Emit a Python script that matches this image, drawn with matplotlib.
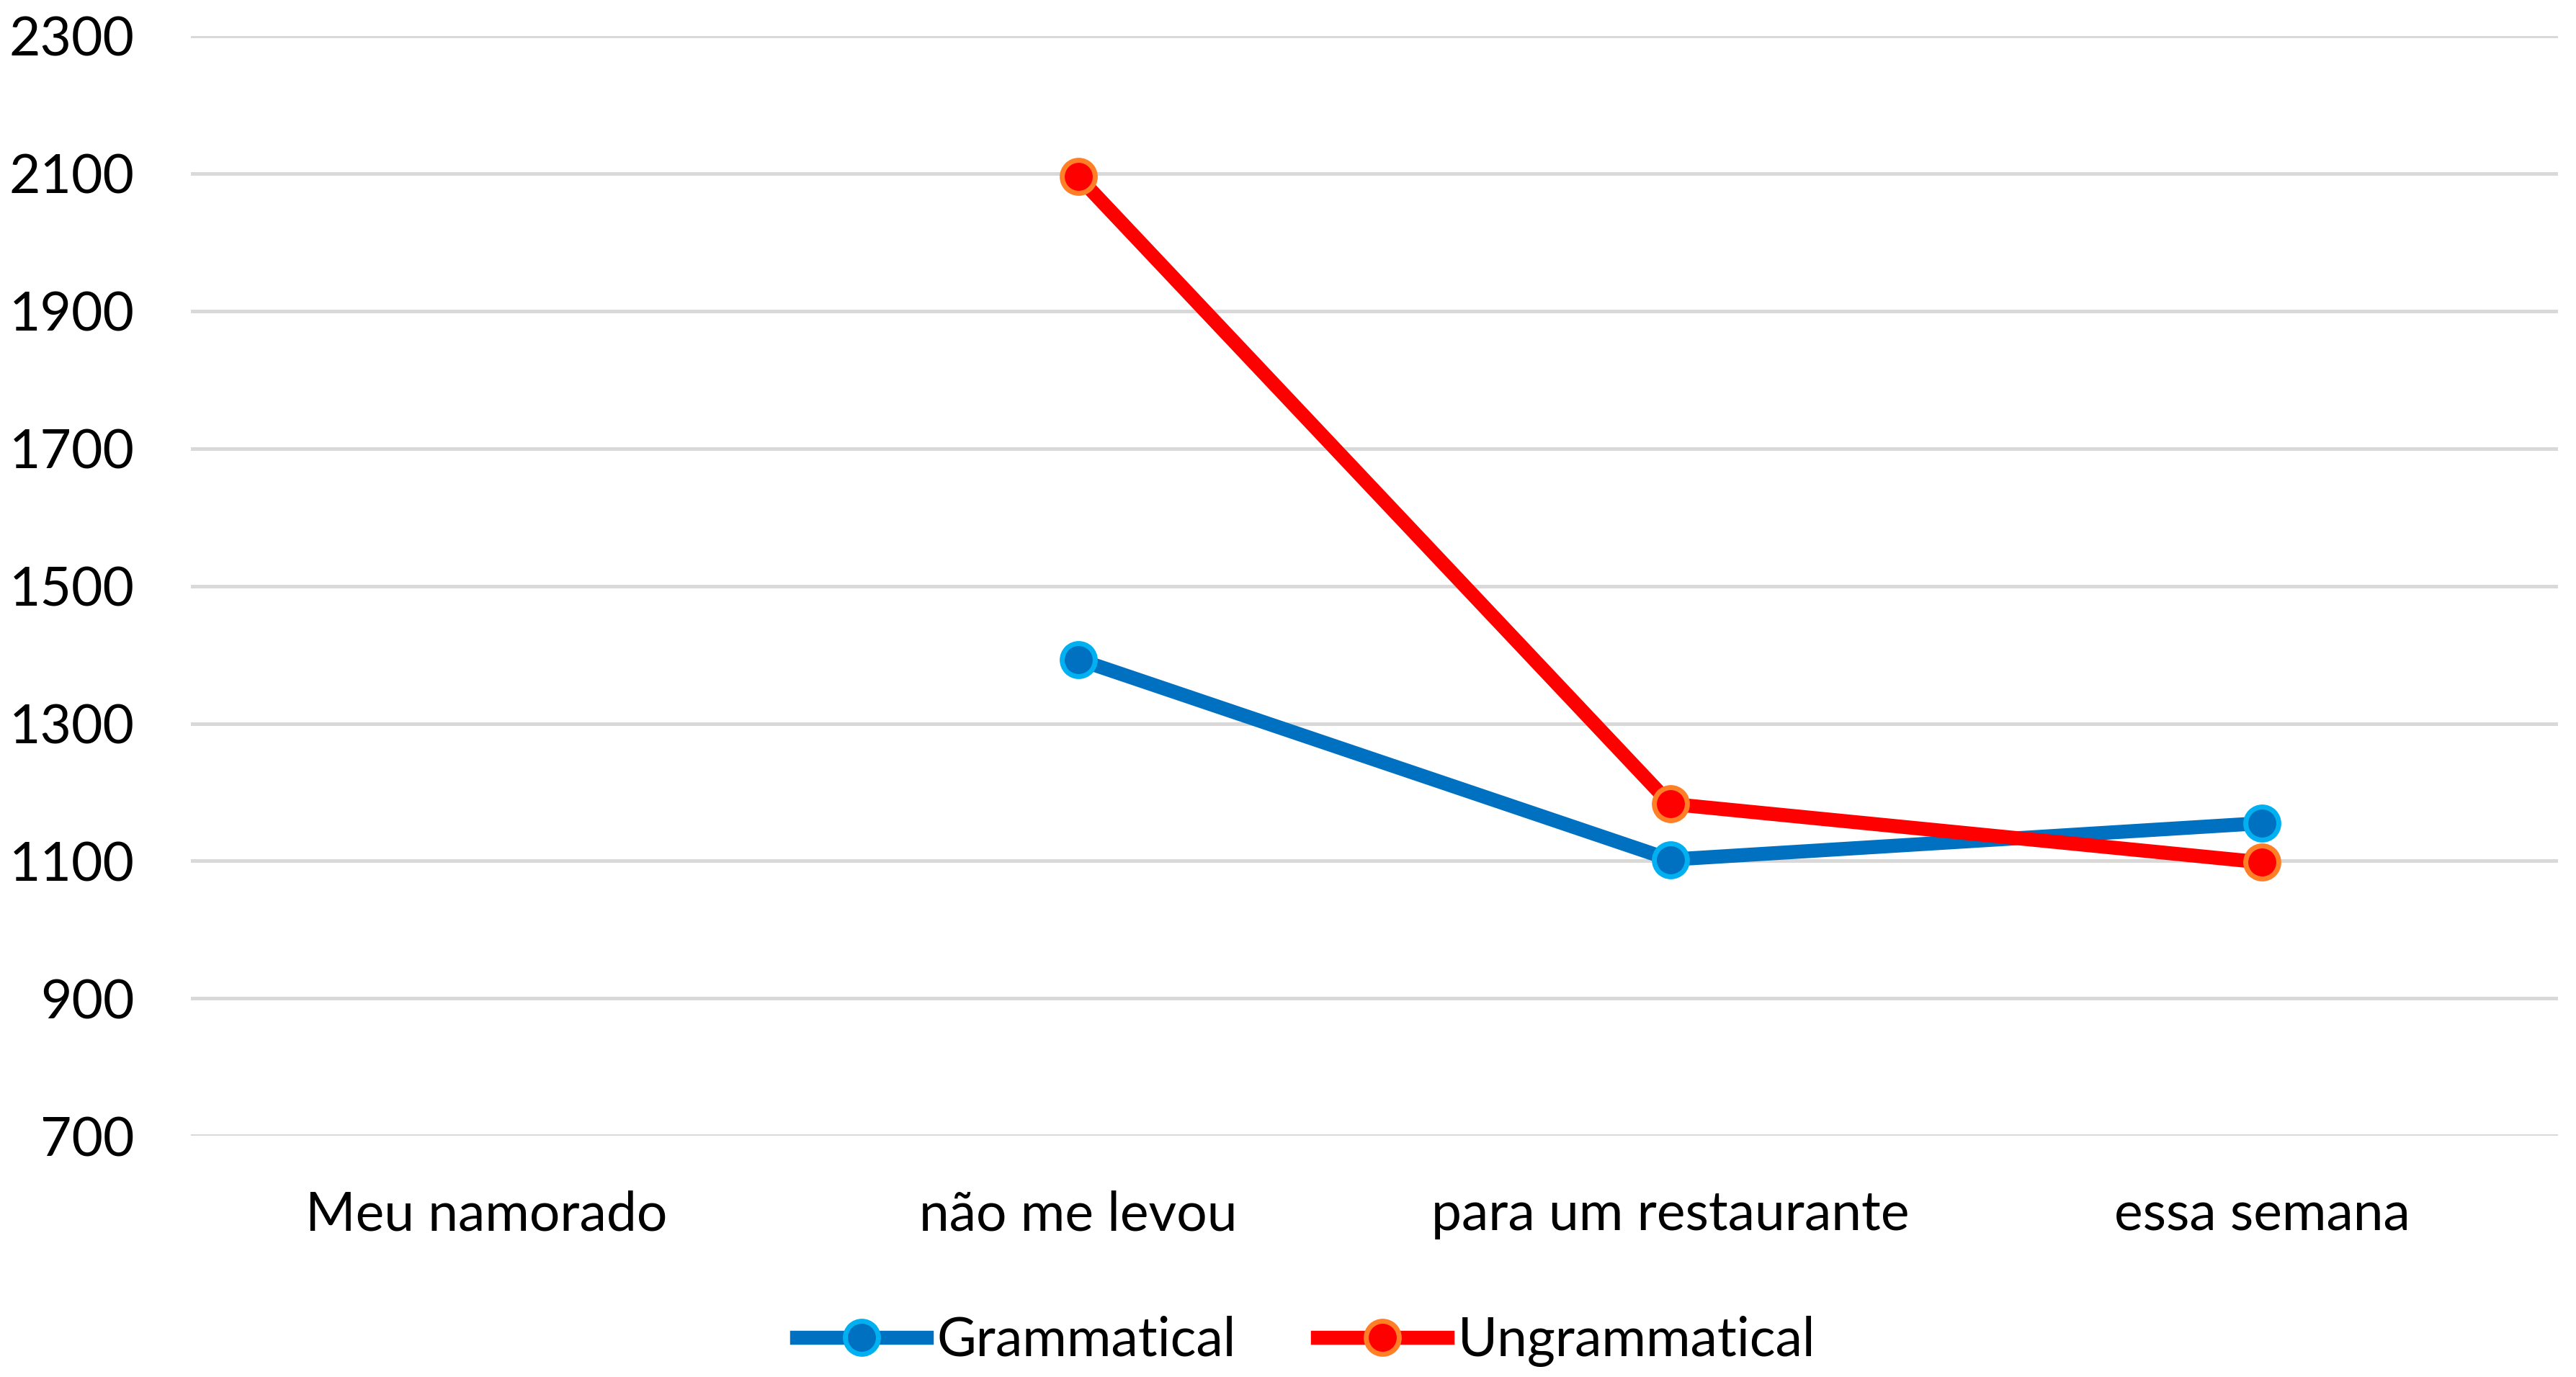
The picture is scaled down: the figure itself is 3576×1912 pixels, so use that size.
import numpy as np
import matplotlib.pyplot as plt

# chart data
categories = ["Meu namorado", "não me levou", "para um restaurante", "essa semana"]
grammatical = [np.nan, 1393, 1102, 1155]
ungrammatical = [np.nan, 2095, 1183, 1098]
y_ticks = [700, 900, 1100, 1300, 1500, 1700, 1900, 2100, 2300]

plt.rcParams['font.family'] = ['Lato', 'DejaVu Sans']

fig = plt.figure(figsize=(17.88, 9.56), dpi=200)
ax = fig.add_axes([0.074, 0.175, 0.919, 0.799])

x = np.arange(len(categories))
ax.plot(x, grammatical, color='#0070C0', lw=7, marker='o', ms=16.5,
        mfc='#0070C0', mec='#00B0F0', mew=2.5, label='Grammatical', zorder=3)
ax.plot(x, ungrammatical, color='#FF0000', lw=7, marker='o', ms=16.5,
        mfc='#FF0000', mec='#FF7F27', mew=2.5, label='Ungrammatical', zorder=4)

ax.set_xlim(-0.5, len(categories) - 0.5)
ax.set_ylim(700, 2300)
ax.set_yticks(y_ticks)
ax.set_xticks(x)
ax.set_xticklabels(categories)
ax.grid(axis='y', color='#D9D9D9', lw=1.8)
ax.set_axisbelow(True)
for s in ax.spines.values():
    s.set_visible(False)
ax.tick_params(axis='both', length=0, labelsize=27)
ax.tick_params(axis='y', pad=28)
ax.tick_params(axis='x', pad=27)

fig.legend(loc='center', bbox_to_anchor=(0.507, 0.026), ncol=2, frameon=False,
           fontsize=27, handlelength=2.4, handletextpad=0.2, columnspacing=1.5)

fig.savefig('out.png', dpi=200)
